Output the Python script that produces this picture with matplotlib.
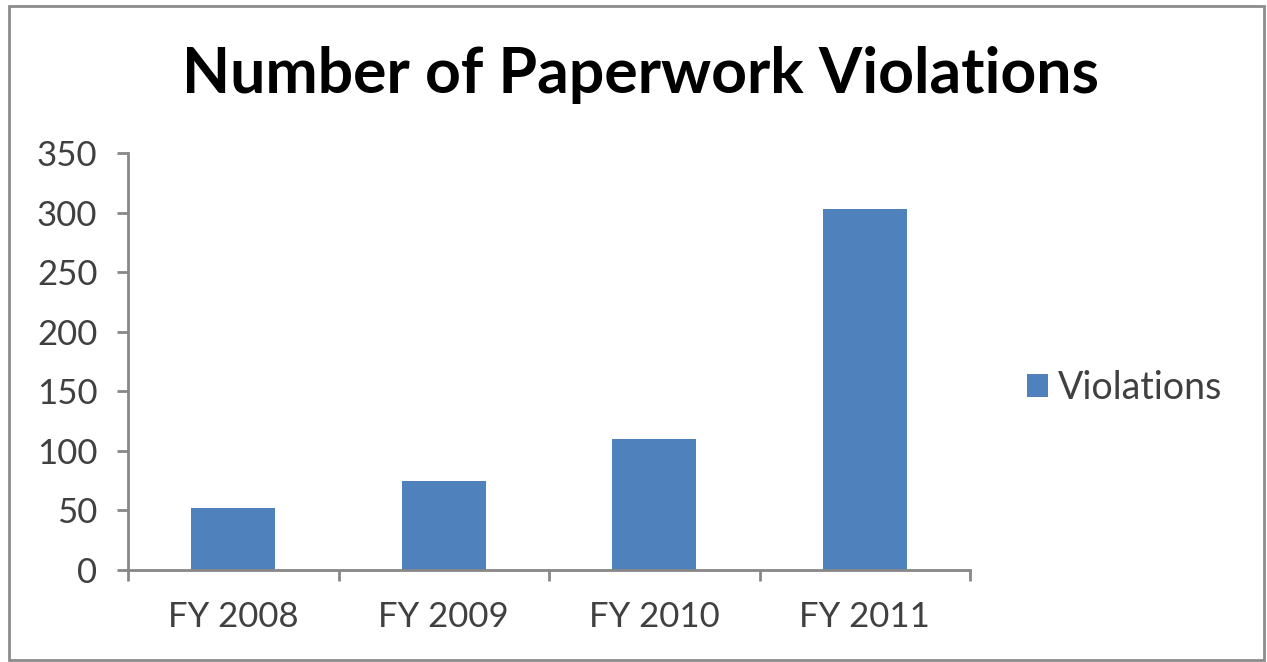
import matplotlib
matplotlib.use("Agg")
import matplotlib.pyplot as plt
from matplotlib.patches import Rectangle

categories = ["FY 2008", "FY 2009", "FY 2010", "FY 2011"]
violations = [52, 75, 110, 303]
yticks = [0, 50, 100, 150, 200, 250, 300, 350]

W, H = 1267, 662
fig = plt.figure(figsize=(W / 100, H / 100), dpi=100)
fig.patch.set_facecolor("white")

ax = fig.add_axes([128 / W, 1 - 570 / H, (970 - 128) / W, (570 - 153) / H])
x = range(len(categories))
ax.bar(x, violations, width=0.4, color="#4F81BD", label="Violations", zorder=2)

ax.set_xlim(-0.5, len(categories) - 0.5)
ax.set_ylim(0, 350)
ax.set_yticks(yticks)
ax.set_xticks(list(x))
ax.set_xticklabels(categories)
ax.set_xticks([i - 0.5 for i in range(len(categories) + 1)], minor=True)

axis_col = "#878787"
for s in ["top", "right"]:
    ax.spines[s].set_visible(False)
for s in ["left", "bottom"]:
    ax.spines[s].set_color(axis_col)
    ax.spines[s].set_linewidth(2)

txt_col = "#404040"
font = "Lato"
ax.tick_params(axis="y", length=8, width=2, color=axis_col, pad=14,
               labelsize=25, labelcolor=txt_col)
ax.tick_params(axis="x", which="major", length=0, pad=22,
               labelsize=25, labelcolor=txt_col)
ax.tick_params(axis="x", which="minor", length=8, width=2, color=axis_col)
for lab in ax.get_xticklabels() + ax.get_yticklabels():
    lab.set_fontfamily(font)

fig.text(640 / W, 1 - 93 / H, "Number of Paperwork Violations",
         ha="center", va="baseline", fontsize=45, fontweight="bold",
         family=font, color="black")

leg = ax.legend(loc="center left", bbox_to_anchor=(1027 / W, 1 - 388 / H),
                bbox_transform=fig.transFigure, frameon=False,
                prop={"family": font, "size": 27}, handlelength=0.56,
                handleheight=0.56, handletextpad=0.27,
                borderpad=0, borderaxespad=0)
for t in leg.get_texts():
    t.set_color(txt_col)

fig.patches.append(Rectangle((9 / W, 1 - 660 / H), (1264 - 9) / W, (660 - 6) / H,
                             transform=fig.transFigure, fill=False,
                             edgecolor="#8c8c8c", linewidth=2))

fig.savefig("out.png", dpi=100, facecolor="white")
